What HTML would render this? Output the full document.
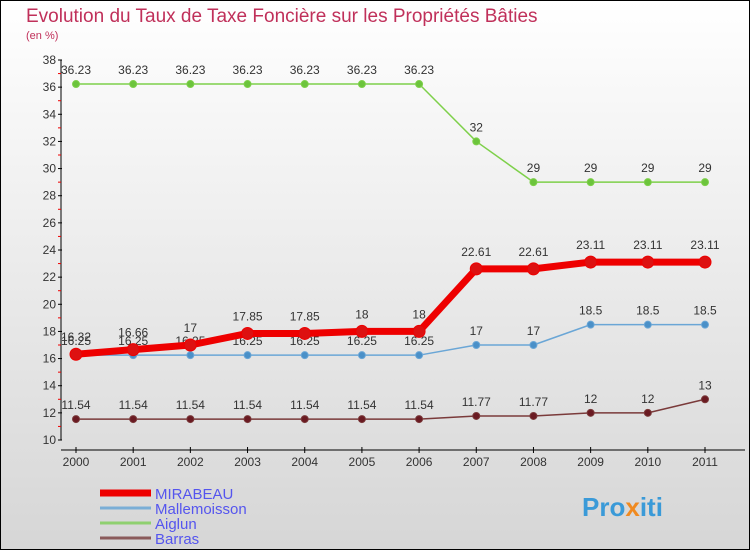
<!DOCTYPE html>
<html><head><meta charset="utf-8"><style>
html,body{margin:0;padding:0}
body{width:750px;height:550px;overflow:hidden;font-family:"Liberation Sans",sans-serif}
</style></head><body>
<svg width="750" height="550" xmlns="http://www.w3.org/2000/svg">
<defs><linearGradient id="bg" x1="0" y1="0" x2="0" y2="1"><stop offset="0" stop-color="#ffffff"/><stop offset="1" stop-color="#d6d6d6"/></linearGradient></defs>
<rect x="0.5" y="0.5" width="749" height="549" fill="url(#bg)" stroke="#000"/>
<text x="26" y="22" font-size="19" fill="#c0305a">Evolution du Taux de Taxe Foncière sur les Propriétés Bâties</text>
<text x="26" y="39" font-size="11" fill="#c0305a">(en %)</text>
<g id="axes"></g>
<g id="series"></g>
<g id="legend"></g>
<text x="582" y="516" font-size="26" font-weight="bold" fill="#3a9ad8">Pro<tspan fill="#f08a20">x</tspan>iti</text>
</svg>
<script>
const years=["2000","2001","2002","2003","2004","2005","2006","2007","2008","2009","2010","2011"];
const yTicks=[10,12,14,16,18,20,22,24,26,28,30,32,34,36,38];
const mirabeau=[16.32,16.66,17,17.85,17.85,18,18,22.61,22.61,23.11,23.11,23.11];
const mallemoisson=[16.25,16.25,16.25,16.25,16.25,16.25,16.25,17,17,18.5,18.5,18.5];
const aiglun=[36.23,36.23,36.23,36.23,36.23,36.23,36.23,32,29,29,29,29];
const barras=[11.54,11.54,11.54,11.54,11.54,11.54,11.54,11.77,11.77,12,12,13];
const seriesNames=["MIRABEAU","Mallemoisson","Aiglun","Barras"];
const NS="http://www.w3.org/2000/svg";
const X=i=>76+i*(705-76)/11;
const Y=v=>440-(v-10)*380/28;
function mk(tag,attrs,parent){const e=document.createElementNS(NS,tag);for(const k in attrs)e.setAttribute(k,attrs[k]);parent.appendChild(e);return e;}
const ax=document.getElementById('axes');
let e=mk('line',{x1:61,y1:60,x2:61,y2:440,stroke:'#000'},ax);


e=mk('line',{x1:61,y1:450,x2:745,y2:450,stroke:'#000'},ax);


yTicks.forEach(v=>{
  mk('line',{x1:58,y1:Y(v),x2:62,y2:Y(v),stroke:'#000'},ax);
  if(v<38) mk('line',{x1:58,y1:Y(v+1),x2:61,y2:Y(v+1),stroke:'#e00'},ax);
  const t=mk('text',{x:56,y:Y(v)+4,'font-size':12,fill:'#333','text-anchor':'end'},ax);t.textContent=v;
  
  
});
years.forEach((y,i)=>{
  mk('line',{x1:X(i),y1:447,x2:X(i),y2:453,stroke:'#000'},ax);
  const t=mk('text',{x:X(i),y:466,'font-size':12,fill:'#333','text-anchor':'middle'},ax);t.textContent=y;
  
  
});
const sg=document.getElementById('series');
function draw(vals,color,dot,w,r,name,labelDy){
  const g=mk('g',{},sg);
  
  
  const p=mk('polyline',{points:vals.map((v,i)=>X(i)+','+Y(v)).join(' '),fill:'none',stroke:color,'stroke-width':w,'stroke-linejoin':'round'},g);
  
  
  vals.forEach((v,i)=>{
    const c=mk('circle',{cx:X(i),cy:Y(v),r:r,fill:dot,stroke:color,'stroke-width':1},g);
    
    
    const t=mk('text',{x:X(i),y:Y(v)+labelDy,'font-size':12,fill:'#333','text-anchor':'middle'},g);
    t.textContent=v;
    
    
  });
}
draw(barras,'#7a3a3a','#6a1a22',1.5,3.5,'barras',-10);
draw(aiglun,'#7ed04a','#6cc43c',1.5,3.5,'aiglun',-10);
draw(mallemoisson,'#6aa6d6','#4a90c8',1.5,3.5,'mallemoisson',-10);
draw(mirabeau,'#ee0000','#dd1111',7,6,'mirabeau',-13);
const lg=document.getElementById('legend');
const lc=['#ee0000','#7aaed6','#8fd070','#8a5a5a'],lw=[7,3,3,3];
seriesNames.forEach((n,i)=>{
  const y=493+i*15;
  const l=mk('line',{x1:100,y1:y,x2:151,y2:y,stroke:lc[i],'stroke-width':lw[i]},lg);
  
  
  const t=mk('text',{x:155,y:y+6,'font-size':15,fill:'#5555ee'},lg);t.textContent=n;
  
  
});
</script>
</body></html>
